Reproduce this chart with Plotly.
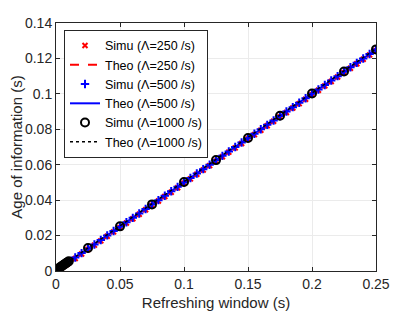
import plotly.graph_objects as go

# Simulation sample points (refreshing window, s)
x_simu = [0.001, 0.002, 0.003, 0.004, 0.005, 0.006, 0.007, 0.008, 0.009, 0.010,
          0.015, 0.020, 0.025, 0.030, 0.035, 0.040, 0.045, 0.050, 0.055, 0.060,
          0.065, 0.070, 0.075, 0.080, 0.085, 0.090, 0.095, 0.100, 0.105, 0.110,
          0.115, 0.120, 0.125, 0.130, 0.135, 0.140, 0.145, 0.150, 0.155, 0.160,
          0.165, 0.170, 0.175, 0.180, 0.185, 0.190, 0.195, 0.200, 0.205, 0.210,
          0.215, 0.220, 0.225, 0.230, 0.235, 0.240, 0.245, 0.250]

simu_250 = [0.0006, 0.0009, 0.0013, 0.0018, 0.0022, 0.0028, 0.0032, 0.0037, 0.0042, 0.0047,
            0.0071, 0.0096, 0.0121, 0.0146, 0.0170, 0.0196, 0.0221, 0.0245, 0.0271, 0.0295,
            0.0320, 0.0346, 0.0370, 0.0395, 0.0421, 0.0445, 0.0470, 0.0495, 0.0520, 0.0546,
            0.0570, 0.0595, 0.0620, 0.0645, 0.0671, 0.0695, 0.0720, 0.0745, 0.0770, 0.0795,
            0.0820, 0.0845, 0.0870, 0.0895, 0.0920, 0.0945, 0.0970, 0.0995, 0.1020, 0.1045,
            0.1070, 0.1095, 0.1120, 0.1145, 0.1170, 0.1195, 0.1220, 0.1244]

simu_500 = [0.0008, 0.0012, 0.0017, 0.0022, 0.0026, 0.0031, 0.0036, 0.0041, 0.0046, 0.0051,
            0.0076, 0.0101, 0.0126, 0.0150, 0.0175, 0.0201, 0.0226, 0.0250, 0.0275, 0.0300,
            0.0325, 0.0350, 0.0375, 0.0400, 0.0425, 0.0450, 0.0475, 0.0500, 0.0525, 0.0550,
            0.0575, 0.0600, 0.0625, 0.0650, 0.0675, 0.0700, 0.0725, 0.0750, 0.0775, 0.0800,
            0.0825, 0.0850, 0.0875, 0.0900, 0.0925, 0.0950, 0.0975, 0.1000, 0.1025, 0.1050,
            0.1075, 0.1100, 0.1125, 0.1150, 0.1175, 0.1200, 0.1225, 0.1250]

# Lambda = 1000 simulation points
x_simu_1000 = [0.001, 0.002, 0.003, 0.004, 0.005, 0.006, 0.007, 0.008, 0.009, 0.010,
               0.025, 0.050, 0.075, 0.100, 0.125, 0.150, 0.175, 0.200, 0.225, 0.250]
simu_1000 = [0.0010, 0.0015, 0.0020, 0.0025, 0.0030, 0.0035, 0.0040, 0.0045, 0.0050, 0.0055,
             0.0130, 0.0252, 0.0376, 0.0502, 0.0626, 0.0751, 0.0876, 0.1002, 0.1126, 0.1251]

# Theory curves
x_theo = [0.0, 0.001, 0.005, 0.01, 0.05, 0.1, 0.15, 0.2, 0.25]
theo_250 = [0.0000, 0.0004, 0.0023, 0.0048, 0.0247, 0.0497, 0.0746, 0.0996, 0.1245]
theo_500 = [0.0002, 0.0007, 0.0027, 0.0052, 0.0251, 0.0501, 0.0751, 0.1001, 0.1250]
theo_1000 = [0.0005, 0.0010, 0.0030, 0.0055, 0.0255, 0.0505, 0.0755, 0.1005, 0.1255]

x_ticks = [0, 0.05, 0.1, 0.15, 0.2, 0.25]
x_tick_labels = ["0", "0.05", "0.1", "0.15", "0.2", "0.25"]
y_ticks = [0, 0.02, 0.04, 0.06, 0.08, 0.1, 0.12, 0.14]
y_tick_labels = ["0", "0.02", "0.04", "0.06", "0.08", "0.1", "0.12", "0.14"]

fig = go.Figure()
fig.add_trace(go.Scatter(x=x_simu, y=simu_250, mode="markers", name="Simu (\u039b=250 /s)",
                         marker=dict(symbol="x-thin", size=5, color="red",
                                     line=dict(color="red", width=2))))
fig.add_trace(go.Scatter(x=x_theo, y=theo_250, mode="lines", name="Theo (\u039b=250 /s)",
                         line=dict(color="red", width=2, dash="dash")))
fig.add_trace(go.Scatter(x=x_simu, y=simu_500, mode="markers", name="Simu (\u039b=500 /s)",
                         marker=dict(symbol="cross-thin", size=6, color="blue",
                                     line=dict(color="blue", width=2))))
fig.add_trace(go.Scatter(x=x_theo, y=theo_500, mode="lines", name="Theo (\u039b=500 /s)",
                         line=dict(color="blue", width=2)))
fig.add_trace(go.Scatter(x=x_simu_1000, y=simu_1000, mode="markers", name="Simu (\u039b=1000 /s)",
                         marker=dict(symbol="circle-open", size=8, color="black",
                                     line=dict(color="black", width=2))))
fig.add_trace(go.Scatter(x=x_theo, y=theo_1000, mode="lines", name="Theo (\u039b=1000 /s)",
                         line=dict(color="black", width=1.5, dash="dot")))

axis_common = dict(showline=True, linecolor="#262626", linewidth=1, mirror="ticks",
                   ticks="inside", ticklen=4, tickcolor="#262626",
                   showgrid=True, gridcolor="#ebebeb", gridwidth=1, zeroline=False,
                   automargin=False,
                   tickfont=dict(size=14, color="#262626"))

fig.update_layout(
    width=407, height=309,
    margin=dict(l=48, r=39, t=15, b=46),
    paper_bgcolor="white", plot_bgcolor="white",
    font=dict(family="Liberation Sans, Arial, sans-serif", color="#262626"),
    showlegend=True,
    legend=dict(x=0.025, y=0.972, xanchor="left", yanchor="top",
                bgcolor="white", bordercolor="#262626", borderwidth=1,
                font=dict(size=12.5, color="black"), tracegroupgap=0,
                itemwidth=30),
    xaxis=dict(range=[0, 0.25], tickvals=x_ticks, ticktext=x_tick_labels,
               title=dict(text="Refreshing window (s)", font=dict(size=15), standoff=6),
               **axis_common),
    yaxis=dict(range=[0, 0.14], tickvals=y_ticks, ticktext=y_tick_labels,
               title=dict(text="Age of information (s)", font=dict(size=15), standoff=6),
               **axis_common),
)

fig.write_html("out.html")
